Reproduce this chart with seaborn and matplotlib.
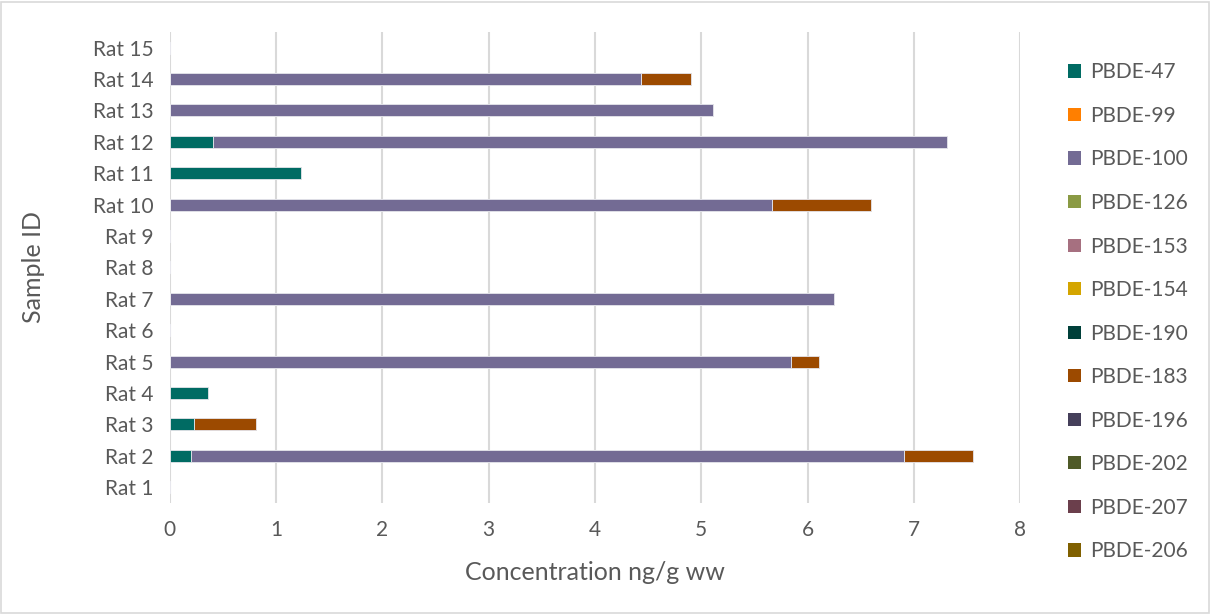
import matplotlib
matplotlib.use("Agg")
import matplotlib.pyplot as plt
import matplotlib.patches as mpatches
import seaborn as sns
import pandas as pd
import numpy as np

samples = [f"Rat {i}" for i in range(1, 16)]
congeners = ["PBDE-47", "PBDE-99", "PBDE-100", "PBDE-126", "PBDE-153", "PBDE-154",
             "PBDE-190", "PBDE-183", "PBDE-196", "PBDE-202", "PBDE-207", "PBDE-206"]
colors = ["#006B63", "#FF7F00", "#736B94", "#8A9A44", "#A67080", "#D4A500",
          "#00403A", "#9C4A00", "#453F5A", "#4F5A28", "#6B3F4C", "#806000"]

#            Rat1  2     3     4     5     6   7     8   9   10    11    12    13    14    15
pbde47  = [0, 0.20, 0.23, 0.36, 0,    0, 0,    0, 0, 0,    1.23, 0.41, 0,    0,    0]
pbde99  = [0] * 15
pbde100 = [0, 6.71, 0,    0,    5.84, 0, 6.25, 0, 0, 5.67, 0,    6.90, 5.11, 4.43, 0]
pbde126 = [0] * 15
pbde153 = [0] * 15
pbde154 = [0] * 15
pbde190 = [0] * 15
pbde183 = [0, 0.65, 0.58, 0,    0.27, 0, 0,    0, 0, 0.93, 0,    0,    0,    0.47, 0]
pbde196 = [0] * 15
pbde202 = [0] * 15
pbde207 = [0] * 15
pbde206 = [0] * 15

series = [pbde47, pbde99, pbde100, pbde126, pbde153, pbde154,
          pbde190, pbde183, pbde196, pbde202, pbde207, pbde206]

df = pd.DataFrame({"Sample": samples})
cum = np.zeros(len(samples))
for name, vals in zip(congeners, series):
    cum = cum + np.array(vals, dtype=float)
    df[name] = cum.copy()

sns.set_theme(style="white")
plt.rcParams["font.family"] = ["Lato", "DejaVu Sans"]
text_color = "#595959"

fig = plt.figure(figsize=(12.13, 6.14), dpi=100)
ax = fig.add_axes([0.140, 0.181, 0.701, 0.767])

order = samples[::-1]
for name, col in reversed(list(zip(congeners, colors))):
    sns.barplot(data=df, x=name, y="Sample", order=order, orient="h",
                color=col, width=0.38, edgecolor="#E8E8EE", linewidth=0.6,
                saturation=1, ax=ax, zorder=3)

ax.set_xlim(0, 8)
ax.set_ylim(14.5, -0.5)
ax.set_xticks(range(0, 9))
ax.grid(axis="x", color="#D9D9D9", linewidth=1.5, zorder=0)
ax.grid(axis="y", visible=False)
for s in ["top", "right", "bottom", "left"]:
    ax.spines[s].set_visible(False)
ax.tick_params(axis="both", length=0, labelsize=15, colors=text_color, pad=12)
ax.tick_params(axis="x", pad=12)
ax.set_xlabel("Concentration ng/g ww", fontsize=18, color=text_color)
ax.set_ylabel("Sample ID", fontsize=18, color=text_color)
ax.xaxis.set_label_coords(0.5, -0.124)
ax.yaxis.set_label_coords(-0.147, 0.5)

handles = [mpatches.Patch(facecolor=c, edgecolor="none", label=n) for n, c in zip(congeners, colors)]
leg = fig.legend(handles=handles, loc="upper left", bbox_to_anchor=(1060 / 1213, 1 - 54 / 614),
                 frameon=False, fontsize=15, handlelength=0.6, handleheight=0.6,
                 handletextpad=0.45, labelspacing=1.13, borderaxespad=0)
for t in leg.get_texts():
    t.set_color(text_color)

fig.patches.append(mpatches.Rectangle((0.001, 0.002), 0.996, 0.995, transform=fig.transFigure,
                                      fill=False, edgecolor="#D9D9D9", linewidth=1.2))

fig.savefig("out.png", dpi=100, facecolor="white")
